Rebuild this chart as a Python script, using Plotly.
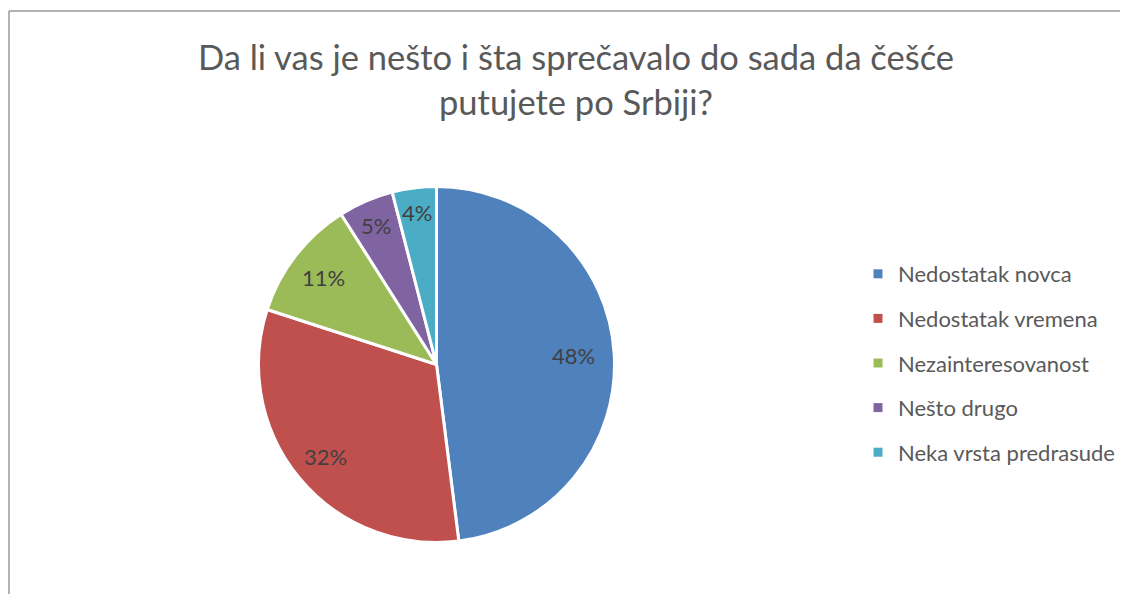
import math
import plotly.graph_objects as go

categories = ["Nedostatak novca", "Nedostatak vremena", "Nezainteresovanost", "Nešto drugo", "Neka vrsta predrasude"]
values = [48, 32, 11, 5, 4]
colors = ["#4F81BD", "#C0504D", "#9BBB59", "#8064A2", "#4BACC6"]
title = "Da li vas je nešto i šta sprečavalo do sada da češće<br>putujete po Srbiji?"

# page body has an 8px margin, so the figure is laid out in its own pixel frame
W, H = 1120, 586
cx, cy, r = 428.5, 356.5, 178.0
FONT = "Lato"
label_radius = [0.77, 0.81, 0.80, 0.85, 0.86]  # radial placement of each label (fraction of radius)

fig = go.Figure()
fig.add_trace(go.Pie(
    labels=categories, values=values, sort=False, direction="clockwise", rotation=0,
    marker=dict(colors=colors, line=dict(color="white", width=3)),
    textinfo="none", hoverinfo="label+percent", showlegend=False,
    domain=dict(x=[(cx - r) / W, (cx + r) / W], y=[1 - (cy + r) / H, 1 - (cy - r) / H]),
))

# legend via dummy traces so spacing can match
for c, col in zip(categories, colors):
    fig.add_trace(go.Scatter(x=[None], y=[None], mode="markers", name=c, legendgroup=c,
                             marker=dict(symbol="square", size=9, color=col)))

# percentage labels placed at slice mid-angles
total = sum(values)
cum = 0
annotations = []
for v, frac in zip(values, label_radius):
    mid = (cum + v / 2) / total * 2 * math.pi
    cum += v
    px = cx + frac * r * math.sin(mid)
    py = cy - frac * r * math.cos(mid)
    annotations.append(dict(x=px / W, y=1 - py / H, xref="paper", yref="paper",
                            xanchor="center", yanchor="middle",
                            text=f"{round(v / total * 100)}%", showarrow=False,
                            font=dict(family=FONT, size=22, color="#404040")))

fig.update_layout(
    width=W, height=H,
    margin=dict(l=0, r=0, t=0, b=0),
    paper_bgcolor="white", plot_bgcolor="white",
    title=dict(text=title, x=568 / W, xanchor="center", y=1 - 62 / H, yanchor="top",
               font=dict(family=FONT, size=34.5, color="#595959")),
    xaxis=dict(visible=False), yaxis=dict(visible=False),
    legend=dict(x=850 / W, xanchor="left", y=1 - 245 / H, yanchor="top",
                font=dict(family=FONT, size=22, color="#595959"),
                tracegroupgap=13, bgcolor="rgba(0,0,0,0)"),
    annotations=annotations,
    shapes=[
        dict(type="line", xref="paper", yref="paper", x0=1 / W, x1=1, y0=1 - 3 / H, y1=1 - 3 / H,
             line=dict(color="#9a9a9a", width=1.5)),
        dict(type="line", xref="paper", yref="paper", x0=1 / W, x1=1 / W, y0=0, y1=1 - 3 / H,
             line=dict(color="#9a9a9a", width=1.5)),
    ],
    showlegend=True,
)

fig.write_html("out.html")
